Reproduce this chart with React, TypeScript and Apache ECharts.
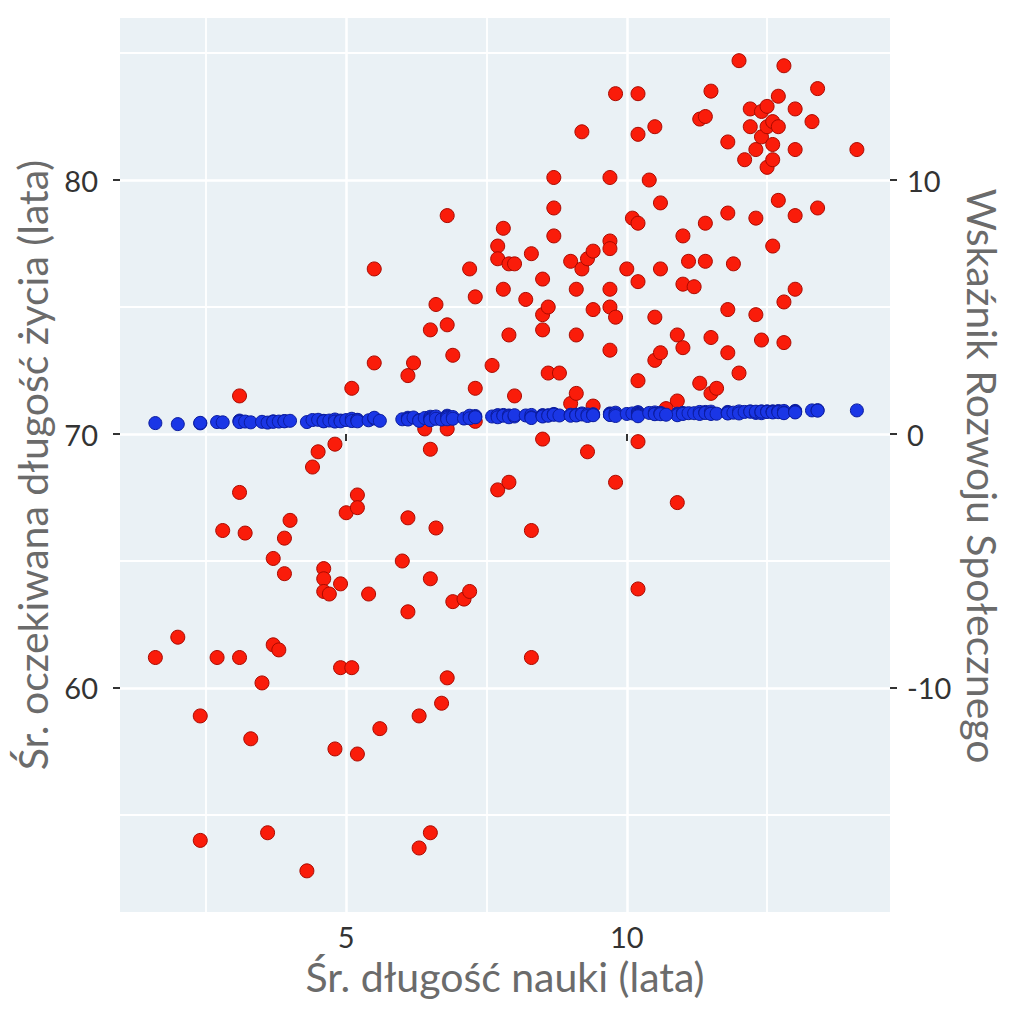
import React, { useEffect, useRef } from "react";
import * as echarts from "echarts";

// Average years of schooling (x)
const education = [
  1.6, 2.0, 2.4, 2.4, 2.7, 2.8, 3.1, 3.1, 3.1, 3.2, 3.3, 3.5, 3.6, 3.7, 3.7, 3.8, 3.9, 3.9, 4.0, 4.3,
  4.4, 4.5, 4.6, 4.6, 4.6, 4.7, 4.8, 4.8, 4.9, 4.9, 5.0, 5.1, 5.1, 5.2, 5.2, 5.2, 5.4, 5.5, 5.5, 5.6,
  6.0, 6.1, 6.1, 6.1, 6.2, 6.3, 6.3, 6.4, 6.5, 6.5, 6.5, 6.5, 6.6, 6.6, 6.7, 6.8, 6.8, 6.8, 6.8, 6.9,
  6.9, 7.1, 7.2, 7.2, 7.3, 7.3, 7.3, 7.6, 7.7, 7.7, 7.7, 7.8, 7.8, 7.9, 7.9, 7.9, 8.0, 8.0, 8.2, 8.3,
  8.3, 8.3, 8.5, 8.5, 8.5, 8.5, 8.6, 8.6, 8.7, 8.7, 8.7, 8.8, 9.0, 9.0, 9.1, 9.1, 9.1, 9.2, 9.2, 9.3,
  9.3, 9.4, 9.4, 9.4, 9.7, 9.7, 9.7, 9.7, 9.7, 9.7, 9.8, 9.8, 9.8, 10.0, 10.1, 10.2, 10.2, 10.2, 10.2, 10.2,
  10.2, 10.2, 10.4, 10.5, 10.5, 10.5, 10.6, 10.6, 10.6, 10.9, 10.9, 10.9, 11.0, 11.0, 11.0, 11.1, 11.2, 11.3, 11.3, 11.4,
  11.4, 11.4, 11.5, 11.5, 11.5, 11.6, 11.8, 11.8, 11.8, 11.8, 11.9, 12.0, 12.0, 12.1, 12.2, 12.2, 12.3, 12.3, 12.3, 12.4,
  12.4, 12.4, 12.5, 12.5, 12.5, 12.6, 12.6, 12.6, 12.6, 12.7, 12.7, 12.7, 12.8, 12.8, 12.8, 13.0, 13.0, 13.0, 13.0, 13.3,
  13.4, 13.4, 14.1, 10.7,
];

// Average life expectancy (years), left axis
const lifeExpectancy = [
  61.2, 62.0, 58.9, 54.0, 61.2, 66.2, 71.5, 67.7, 61.2, 66.1, 58.0, 60.2, 54.3, 65.1, 61.7, 61.5, 65.9, 64.5, 66.6, 52.8,
  68.7, 69.3, 64.7, 64.3, 63.8, 63.7, 69.6, 57.6, 64.1, 60.8, 66.9, 71.8, 60.8, 67.6, 67.1, 57.4, 63.7, 72.8, 76.5, 58.4,
  65.0, 72.3, 66.7, 63.0, 72.8, 58.9, 53.7, 70.2, 74.1, 69.4, 64.3, 54.3, 75.1, 66.3, 59.4, 78.6, 74.3, 70.2, 60.4, 73.1,
  63.4, 63.5, 76.5, 63.8, 75.4, 71.8, 70.5, 72.7, 77.4, 76.9, 67.8, 78.1, 75.7, 76.7, 73.9, 68.1, 71.5, 76.7, 75.3, 77.1,
  66.2, 61.2, 76.1, 74.7, 74.1, 69.8, 75.0, 72.4, 80.1, 78.9, 77.8, 72.4, 76.8, 71.2, 75.7, 73.9, 71.6, 81.9, 76.5, 76.9,
  69.3, 77.2, 74.9, 71.1, 80.1, 77.6, 77.3, 75.7, 75.0, 73.3, 83.4, 74.6, 68.1, 76.5, 78.5, 78.3, 83.4, 81.8, 76.0, 72.1,
  69.7, 63.9, 80.0, 82.1, 74.6, 72.9, 79.1, 76.5, 73.2, 73.9, 71.3, 67.3, 77.8, 75.9, 73.4, 76.8, 75.8, 82.4, 72.0, 82.5,
  78.3, 76.8, 83.5, 73.8, 71.6, 71.8, 81.5, 78.7, 74.9, 73.2, 76.7, 84.7, 72.4, 80.8, 82.8, 82.1, 78.5, 74.7, 81.2, 82.7,
  73.7, 81.7, 82.9, 82.1, 80.5, 82.3, 81.4, 80.8, 77.4, 83.3, 82.1, 79.2, 84.5, 75.2, 73.6, 82.8, 81.2, 78.6, 75.7, 82.3,
  83.6, 78.9, 81.2, 71.0,
];

// Human Development Index, right axis
const hdi = [
  0.43, 0.39, 0.42, 0.44, 0.47, 0.46, 0.53, 0.50, 0.47, 0.49, 0.46, 0.48, 0.45, 0.50, 0.48, 0.49, 0.51, 0.50, 0.52, 0.47,
  0.55, 0.56, 0.52, 0.51, 0.50, 0.53, 0.57, 0.49, 0.53, 0.50, 0.55, 0.60, 0.51, 0.56, 0.55, 0.50, 0.54, 0.61, 0.64, 0.52,
  0.58, 0.64, 0.60, 0.57, 0.65, 0.55, 0.52, 0.63, 0.68, 0.62, 0.58, 0.54, 0.69, 0.60, 0.57, 0.72, 0.68, 0.64, 0.58, 0.67,
  0.60, 0.61, 0.72, 0.62, 0.71, 0.67, 0.66, 0.69, 0.74, 0.73, 0.66, 0.75, 0.72, 0.73, 0.71, 0.66, 0.69, 0.74, 0.73, 0.75,
  0.66, 0.63, 0.74, 0.73, 0.72, 0.69, 0.74, 0.72, 0.79, 0.77, 0.76, 0.73, 0.76, 0.72, 0.76, 0.75, 0.73, 0.81, 0.77, 0.77,
  0.71, 0.78, 0.76, 0.74, 0.81, 0.79, 0.78, 0.77, 0.76, 0.75, 0.84, 0.77, 0.71, 0.79, 0.81, 0.80, 0.86, 0.84, 0.79, 0.76,
  0.73, 0.70, 0.83, 0.85, 0.79, 0.78, 0.83, 0.81, 0.78, 0.80, 0.77, 0.74, 0.83, 0.81, 0.79, 0.82, 0.82, 0.87, 0.79, 0.87,
  0.84, 0.83, 0.88, 0.81, 0.79, 0.80, 0.87, 0.85, 0.82, 0.81, 0.84, 0.89, 0.81, 0.87, 0.89, 0.88, 0.86, 0.83, 0.88, 0.89,
  0.82, 0.88, 0.89, 0.88, 0.87, 0.89, 0.88, 0.87, 0.85, 0.90, 0.89, 0.86, 0.91, 0.84, 0.82, 0.91, 0.89, 0.87, 0.85, 0.93,
  0.94, 0.92, 0.93, 0.76,
];

const xTicks = [5, 10];
const leftTicks = [60, 70, 80];
const rightTicks = [-10, 0, 10];

const xTitle = "Śr. długość nauki (lata)";
const leftTitle = "Śr. oczekiwana długość życia (lata)";
const rightTitle = "Wskaźnik Rozwoju Społecznego";

export default function App() {
  const ref = useRef<HTMLDivElement>(null);

  useEffect(() => {
    if (!ref.current) return;
    const chart = echarts.init(ref.current, undefined, { renderer: "svg" });
    const font = "Lato, 'Open Sans', sans-serif";
    const redData = education.map((x, i) => [x, lifeExpectancy[i]]);
    const blueData = education.map((x, i) => [x, hdi[i]]);
    const tickStyle = { show: true, length: 7, lineStyle: { color: "#333", width: 2 } };
    const labelStyle = { color: "#333", fontSize: 29, fontFamily: font };
    const nameStyle = { color: "#6b6b6b", fontSize: 41, fontFamily: font };

    chart.setOption({
      animation: false,
      backgroundColor: "#ffffff",
      grid: {
        left: 120,
        right: 134,
        top: 18,
        bottom: 112,
        show: true,
        backgroundColor: "#EAF1F5",
        borderWidth: 0,
      },
      xAxis: {
        type: "value",
        min: 0.97,
        max: 14.69,
        splitNumber: 3,
        name: xTitle,
        nameLocation: "middle",
        nameGap: 44,
        nameTextStyle: nameStyle,
        axisLine: { show: false },
        axisTick: { ...tickStyle, customValues: xTicks },
        axisLabel: { ...labelStyle, margin: 10, customValues: xTicks },
        splitLine: { show: true, lineStyle: { color: "#ffffff", width: 2.5 } },
        minorTick: { show: false, splitNumber: 2 },
        minorSplitLine: { show: true, lineStyle: { color: "#ffffff", width: 1.8 } },
      },
      yAxis: [
        {
          type: "value",
          min: 51.18,
          max: 86.38,
          splitNumber: 4,
          position: "left",
          name: leftTitle,
          nameLocation: "middle",
          nameGap: 50,
          nameRotate: 90,
          nameTextStyle: nameStyle,
          axisLine: { show: false },
          axisTick: { ...tickStyle, customValues: leftTicks },
          axisLabel: { ...labelStyle, margin: 22, customValues: leftTicks },
          splitLine: { show: true, lineStyle: { color: "#ffffff", width: 2.5 } },
          minorTick: { show: false, splitNumber: 2 },
          minorSplitLine: { show: true, lineStyle: { color: "#ffffff", width: 1.8 } },
        },
        {
          type: "value",
          min: -18.82,
          max: 16.38,
          splitNumber: 4,
          position: "right",
          name: rightTitle,
          nameLocation: "middle",
          nameGap: 68,
          nameRotate: -90,
          nameTextStyle: { ...nameStyle, padding: [0, 0, 0, 22] },
          axisLine: { show: false },
          axisTick: { ...tickStyle, customValues: rightTicks },
          axisLabel: { ...labelStyle, margin: 17, customValues: rightTicks },
          splitLine: { show: false },
        },
      ],
      series: [
        {
          type: "scatter",
          name: "life",
          yAxisIndex: 0,
          data: redData,
          symbolSize: 14,
          itemStyle: { color: "#FA1C0A", borderColor: "#A80A00", borderWidth: 1, opacity: 1 },
          z: 2,
        },
        {
          type: "scatter",
          name: "hdi",
          yAxisIndex: 1,
          data: blueData,
          symbolSize: 13,
          itemStyle: { color: "#1A36E6", borderColor: "#0B1C9E", borderWidth: 1, opacity: 1 },
          z: 3,
        },
      ],
    });
    return () => chart.dispose();
  }, []);

  return (
    <div
      ref={ref}
      style={{ position: "fixed", left: 0, top: 0, width: 1024, height: 1024 }}
    />
  );
}
